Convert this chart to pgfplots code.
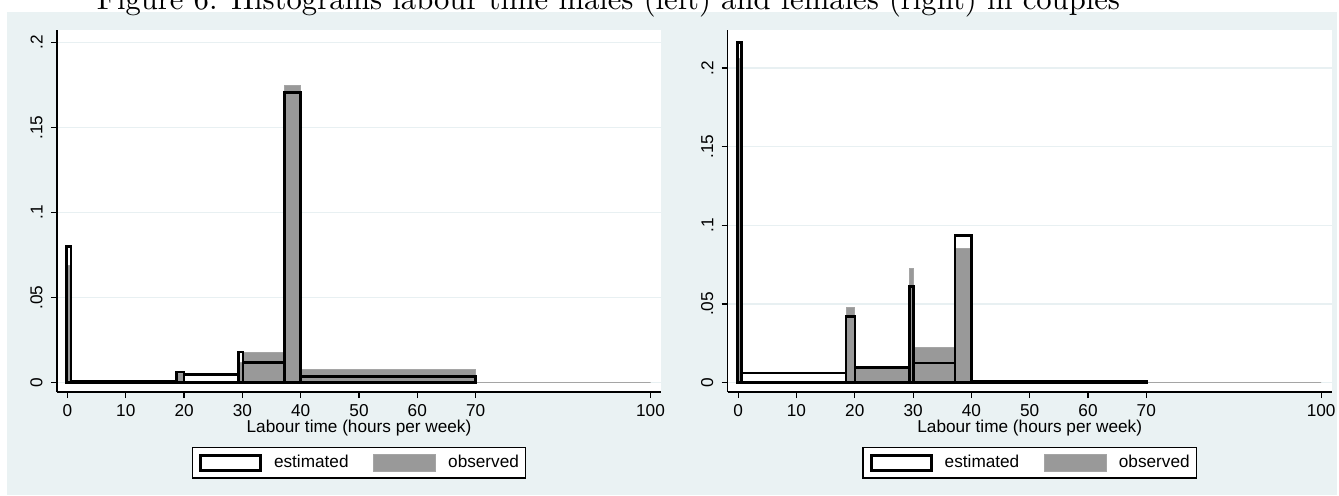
\documentclass[border=0pt]{standalone}
\usepackage{fontspec}
\newfontfamily\arial{Liberation Sans}
\usepackage{graphicx}
\usepackage{pgfplots}
\pgfplotsset{compat=1.18}
\definecolor{bgc}{RGB}{234,242,243}
\definecolor{obsfill}{RGB}{153,153,153}
\definecolor{obsline}{RGB}{165,165,165}
\definecolor{gridc}{RGB}{232,240,242}
\newcommand{\cf}{\arial\fontsize{8.6}{10}\selectfont}
\pgfplotsset{
  hist/.style={
    scale only axis, width=302pt, height=181pt,
    xmin=-1.8, xmax=101.8,
    axis x line*=bottom, axis y line*=left,
    axis line style={black, line width=0.7pt},
    axis background/.style={fill=white},
    tick align=outside, major tick length=3pt,
    every tick/.style={black, line width=0.6pt},
    xtick={0,10,20,30,40,50,60,70,100},
    xticklabels={0,10,20,30,40,50,60,70,100},
    ytick={0,0.05,0.1,0.15,0.2},
    yticklabels={0,.05,.1,.15,.2},
    ymajorgrids, major grid style={gridc, line width=0.7pt},
    /pgf/number format/assume math mode=true,
    tick label style={font=\cf},
    xticklabel style={anchor=north, inner sep=0pt},
    xticklabel shift=3pt,
    yticklabel style={rotate=90, anchor=south, inner sep=0pt},
    yticklabel shift=4pt,
    xlabel={Labour time (hours per week)},
    xlabel style={font=\cf, at={(axis description cs:0.5,0)}, anchor=base, yshift=-20pt, inner sep=0pt},
    legend columns=2,
    legend cell align=left,
    legend style={at={(0.5,0)}, anchor=north, yshift=-27.5pt, draw=black, line width=0.7pt, fill=white,
      font=\cf, inner xsep=3.3pt, inner ysep=3.1pt, nodes={inner sep=0pt},
      /tikz/every odd column/.append style={column sep=6pt},
      /tikz/every even column/.append style={column sep=12.3pt}},
  },
  obs/.style={ybar interval, fill=obsfill, draw=obsline, line width=0.5pt, forget plot},
  est/.style={ybar interval, fill=none, draw=black, line width=1.3pt, forget plot},
}
\newcommand{\legendentries}{%
  \addlegendimage{legend image code/.code={\draw[black, line width=1.4pt, fill=white] (0.7pt,-3.8pt) rectangle (30.8pt,3.8pt);}}
  \addlegendentry{estimated}
  \addlegendimage{legend image code/.code={\draw[obsline, line width=0.5pt, fill=obsfill] (0.25pt,-4.25pt) rectangle (31.25pt,4.25pt);}}
  \addlegendentry{observed}
}
\begin{document}
\begin{tikzpicture}[x=1pt,y=1pt]
\useasboundingbox (0,0) rectangle (669.5,247.5);
\fill[bgc] (3.5,0) rectangle (668.5,241.5);
\node[anchor=base, inner sep=0pt] at (304.25,243) {\resizebox{511.5pt}{!}{Figure 6: Histograms labour time males (left) and females (right) in couples}};
\begin{axis}[hist, at={(28.5pt,51.5pt)}, anchor=south west, ymin=-0.0056, ymax=0.2074]
\legendentries
\addplot[obs] coordinates {(-0.15,0.069) (0.6,0.0008) (18.7,0.0055) (20,0.0008) (29.35,0.012) (30.1,0.0178) (37.2,0.175) (40,0.0075) (70,0) (100,0)};
\addplot[est] coordinates {(-0.15,0.080) (0.6,0.0008) (18.7,0.0062) (20,0.0047) (29.35,0.018) (30.1,0.0117) (37.2,0.1706) (40,0.0035) (70,0.0035)};
\end{axis}
\begin{axis}[hist, at={(363.85pt,51.5pt)}, anchor=south west, ymin=-0.0059, ymax=0.2241]
\legendentries
\addplot[obs] coordinates {(-0.15,0.206) (0.6,0.0008) (18.5,0.0478) (20,0.0098) (29.35,0.0727) (30.1,0.0225) (37.2,0.0853) (40,0.0008) (70,0) (100,0)};
\addplot[est] coordinates {(-0.15,0.216) (0.6,0.0062) (18.5,0.042) (20,0.0098) (29.35,0.061) (30.1,0.0125) (37.2,0.0935) (40,0.0008) (70,0.0008)};
\end{axis}
\end{tikzpicture}
\end{document}
